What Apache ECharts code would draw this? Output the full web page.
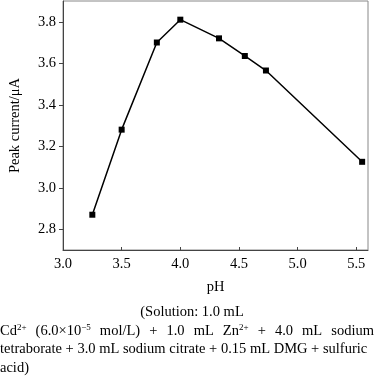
<!DOCTYPE html>
<html>
<head>
<meta charset="utf-8">
<script src="https://cdn.jsdelivr.net/npm/echarts@6/dist/echarts.min.js"></script>
<style>
  html, body { margin: 0; padding: 0; background: #fff; }
  #chart { width: 377px; height: 384px; }
</style>
</head>
<body>
<div id="chart"></div>
<script>
// pH vs peak current
const phValues = [3.25, 3.5, 3.8, 4.0, 4.33, 4.55, 4.73, 5.55];
const peakCurrent = [2.87, 3.28, 3.70, 3.81, 3.72, 3.635, 3.565, 3.125];
const xTicks = [3.0, 3.5, 4.0, 4.5, 5.0, 5.5];
const yTicks = [2.8, 3.0, 3.2, 3.4, 3.6, 3.8];

const serif = "'Liberation Serif', 'Times New Roman', serif";
const capSize = 14.5;
const supSize = 9;
const sup = { fontSize: supSize, verticalAlign: "top", padding: [0, 0, 7, 0], fontFamily: serif, fill: "#000" };

// words of the justified caption line
const captionWords = ["Cd{s|2+}", "(6.0×10{s|−5}", "mol/L)", "+", "1.0", "mL", "Zn{s|2+}", "+", "4.0", "mL", "sodium"];
const lineWidth = 374;

// measure words so the line can be spread to full width (like justified text)
const ctx = document.createElement("canvas").getContext("2d");
function wordWidth(w) {
  let total = 0;
  const parts = w.split(/(\{s\|[^}]*\})/);
  parts.forEach((p) => {
    if (!p) return;
    const m = p.match(/^\{s\|([^}]*)\}$/);
    if (m) {
      ctx.font = supSize + "px " + serif;
      total += ctx.measureText(m[1]).width;
    } else {
      ctx.font = capSize + "px " + serif;
      total += ctx.measureText(p).width;
    }
  });
  return total;
}
const widths = captionWords.map(wordWidth);
const gap = (lineWidth - widths.reduce((a, b) => a + b, 0)) / (captionWords.length - 1);
let cursor = 0;
const wordX = widths.map((w) => {
  const x = cursor;
  cursor += w + gap;
  return x;
});

const chart = echarts.init(document.getElementById("chart"));

const captionText = (text, x, y) => ({
  type: "text",
  x: x,
  y: y,
  style: {
    text: text,
    font: capSize + "px " + serif,
    fill: "#000",
    textAlign: "left",
    textVerticalAlign: "middle",
    rich: { s: sup },
  },
});

const graphic = [
  {
    type: "text",
    x: 192,
    y: 312,
    style: { text: "(Solution: 1.0 mL", font: capSize + "px " + serif, fill: "#000", textAlign: "center", textVerticalAlign: "middle" },
  },
  ...captionWords.map((w, i) => captionText(w, wordX[i], 331)),
  captionText("tetraborate + 3.0 mL sodium citrate + 0.15 mL DMG + sulfuric", 0, 349),
  captionText("acid)", 0, 368),
];

const option = {
  animation: false,
  grid: {
    left: 58,
    right: 9,
    top: 1,
    bottom: 134,
    show: true,
    borderColor: "#888",
    borderWidth: 1,
  },
  xAxis: {
    type: "value",
    min: 3.0,
    max: 5.6,
    name: "pH",
    nameLocation: "middle",
    nameGap: 30,
    nameTextStyle: { fontFamily: serif, fontSize: 14.5, color: "#000" },
    axisLine: { lineStyle: { color: "#444", width: 1 } },
    axisTick: { inside: true, length: 3, customValues: xTicks, lineStyle: { color: "#444" } },
    axisLabel: {
      customValues: xTicks,
      formatter: (v) => v.toFixed(1),
      fontFamily: serif,
      fontSize: 14.5,
      color: "#000",
      margin: 7,
    },
    splitLine: { show: false },
  },
  yAxis: {
    type: "value",
    min: 2.7,
    max: 3.9,
    name: "Peak current/μA",
    nameLocation: "middle",
    nameGap: 40,
    nameTextStyle: { fontFamily: serif, fontSize: 14.5, color: "#000" },
    axisLine: { show: true, lineStyle: { color: "#444", width: 1 } },
    axisTick: { show: true, inside: false, length: 4, customValues: yTicks, lineStyle: { color: "#444" } },
    axisLabel: {
      customValues: yTicks,
      formatter: (v) => v.toFixed(1),
      fontFamily: serif,
      fontSize: 14.5,
      color: "#000",
      margin: 7,
    },
    splitLine: { show: false },
  },
  graphic: graphic,
  series: [
    {
      type: "line",
      data: phValues.map((x, i) => [x, peakCurrent[i]]),
      symbol: "rect",
      symbolSize: 6,
      showAllSymbol: true,
      itemStyle: { color: "#000" },
      lineStyle: { color: "#000", width: 1.5 },
    },
  ],
};

chart.setOption(option);
</script>
</body>
</html>
